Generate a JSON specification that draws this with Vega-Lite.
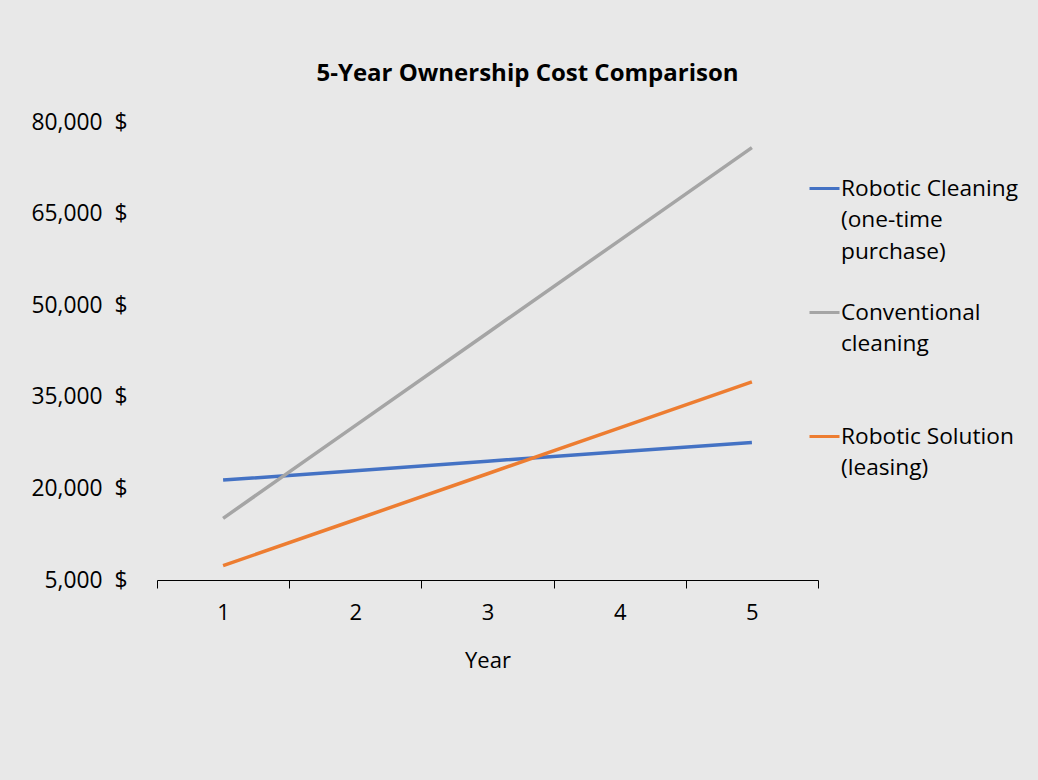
{
  "$schema": "https://vega.github.io/schema/vega-lite/v6.json",
  "width": 661,
  "height": 458,
  "autosize": {"type": "none"},
  "padding": {"left": 157, "top": 122, "right": 220, "bottom": 200},
  "background": "#e8e8e8",
  "config": {
    "font": "Open Sans",
    "view": {"stroke": null},
    "style": {"guide-label": {"lineHeight": 31.5}}
  },
  "title": {
    "text": "5-Year Ownership Cost Comparison",
    "frame": "group",
    "anchor": "middle",
    "dx": 40,
    "offset": 25,
    "fontSize": 24,
    "fontWeight": "bold",
    "color": "#000000"
  },
  "data": {
    "values": [
      {"Year": "1", "Series": "Robotic Cleaning (one-time purchase)", "Cost": 21360},
      {"Year": "2", "Series": "Robotic Cleaning (one-time purchase)", "Cost": 22900},
      {"Year": "3", "Series": "Robotic Cleaning (one-time purchase)", "Cost": 24450},
      {"Year": "4", "Series": "Robotic Cleaning (one-time purchase)", "Cost": 26000},
      {"Year": "5", "Series": "Robotic Cleaning (one-time purchase)", "Cost": 27530},
      {"Year": "1", "Series": "Conventional cleaning", "Cost": 15100},
      {"Year": "2", "Series": "Conventional cleaning", "Cost": 30275},
      {"Year": "3", "Series": "Conventional cleaning", "Cost": 45450},
      {"Year": "4", "Series": "Conventional cleaning", "Cost": 60625},
      {"Year": "5", "Series": "Conventional cleaning", "Cost": 75800},
      {"Year": "1", "Series": "Robotic Solution (leasing)", "Cost": 7340},
      {"Year": "2", "Series": "Robotic Solution (leasing)", "Cost": 14870},
      {"Year": "3", "Series": "Robotic Solution (leasing)", "Cost": 22400},
      {"Year": "4", "Series": "Robotic Solution (leasing)", "Cost": 29925},
      {"Year": "5", "Series": "Robotic Solution (leasing)", "Cost": 37450}
    ]
  },
  "mark": {"type": "line", "strokeWidth": 3.5},
  "encoding": {
    "x": {
      "field": "Year",
      "type": "ordinal",
      "bandPosition": 0.5,
      "scale": {"type": "band", "paddingInner": 0, "paddingOuter": 0},
      "axis": {
        "title": "Year",
        "labelAngle": 0,
        "tickBand": "extent",
        "domainColor": "#000000",
        "tickColor": "#000000",
        "tickSize": 8,
        "labelFontSize": 22,
        "labelColor": "#000000",
        "labelPadding": 14,
        "titleFontSize": 22,
        "titleFontWeight": "normal",
        "titleColor": "#000000",
        "titlePadding": 27,
        "grid": false
      }
    },
    "y": {
      "field": "Cost",
      "type": "quantitative",
      "scale": {"domain": [5000, 80000], "nice": false, "zero": false},
      "axis": {
        "title": null,
        "values": [5000, 20000, 35000, 50000, 65000, 80000],
        "labelExpr": "format(datum.value, ',') + '\u00a0 $'",
        "domain": false,
        "ticks": false,
        "grid": false,
        "labelFontSize": 22.8,
        "labelColor": "#000000",
        "labelPadding": 30
      }
    },
    "color": {
      "field": "Series",
      "type": "nominal",
      "scale": {
        "domain": ["Robotic Cleaning (one-time purchase)", "Conventional cleaning", "Robotic Solution (leasing)"],
        "range": ["#4472C4", "#A5A5A5", "#ED7D31"]
      },
      "legend": {
        "orient": "none",
        "legendX": 651,
        "legendY": 50,
        "title": null,
        "symbolType": "stroke",
        "symbolSize": 900,
        "symbolStrokeWidth": 3,
        "labelFontSize": 22.7,
        "labelColor": "#000000",
        "labelBaseline": "middle",
        "labelOffset": 0,
        "labelLimit": 300,
        "gridAlign": "all",
        "rowPadding": 32,
        "labelExpr": "datum.label == 'Robotic Cleaning (one-time purchase)' ? ['Robotic Cleaning', '(one-time', 'purchase)'] : datum.label == 'Conventional cleaning' ? ['Conventional', 'cleaning'] : ['Robotic Solution', '(leasing)']"
      }
    }
  }
}
